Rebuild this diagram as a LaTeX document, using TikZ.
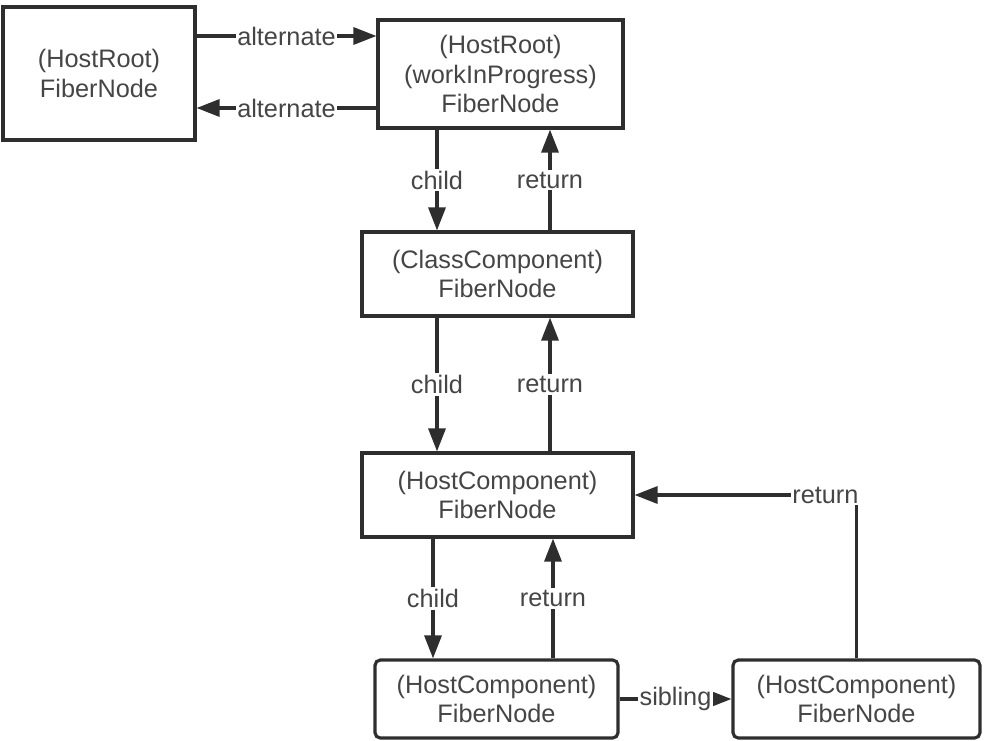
\documentclass[tikz,border=0pt]{standalone}
\usepackage{fontspec}
\setmainfont{Liberation Sans}
\usetikzlibrary{arrows.meta}
\definecolor{linegray}{HTML}{2E2E2E}
\definecolor{textgray}{HTML}{454545}

\begin{document}
\begin{tikzpicture}[x=0.02cm, y=-0.02cm, line width=1.8pt,
  fiber/.style={draw=linegray, align=center, text=textgray, inner sep=0pt,
    font=\fontsize{14.4}{17}\selectfont},
  link/.style={draw=linegray, -{Triangle[length=0.46cm, width=0.34cm]}},
  lbl/.style={fill=white, text=textgray, inner sep=1pt,
    font=\fontsize{14.4}{17}\selectfont}]
  \useasboundingbox (0,0) rectangle (986,740);

  % 结点
  \node[fiber, minimum width=3.84cm, minimum height=2.66cm] (root) at (99,73.5) {(HostRoot)\\FiberNode};
  \node[fiber, minimum width=4.9cm, minimum height=2.16cm] (wip) at (500.5,74) {(HostRoot)\\(workInProgress)\\FiberNode};
  \node[fiber, minimum width=5.42cm, minimum height=1.68cm] (cls) at (497.5,274) {(ClassComponent)\\FiberNode};
  \node[fiber, minimum width=5.42cm, minimum height=1.68cm] (host) at (497.5,495) {(HostComponent)\\FiberNode};
  \node[fiber, rounded corners=3pt, minimum width=4.86cm, minimum height=1.56cm] (hostA) at (496.5,699) {(HostComponent)\\FiberNode};
  \node[fiber, rounded corners=3pt, minimum width=4.94cm, minimum height=1.56cm] (hostB) at (856.5,699) {(HostComponent)\\FiberNode};

  % 连线的竖直位置
  \coordinate (alt1) at (0,36);
  \coordinate (alt2) at (0,108);
  \coordinate (c1) at (437,0);
  \coordinate (r1) at (550,0);
  \coordinate (c2) at (433,0);
  \coordinate (r2) at (553,0);

  % alternate
  \draw[link] (root.east |- alt1) -- node[lbl] {alternate} (wip.west |- alt1);
  \draw[link] (wip.west |- alt2) -- node[lbl] {alternate} (root.east |- alt2);

  % child / return
  \draw[link] (wip.south -| c1) -- node[lbl] {child} (cls.north -| c1);
  \draw[link] (cls.north -| r1) -- node[lbl] {return} (wip.south -| r1);
  \draw[link] (cls.south -| c1) -- node[lbl] {child} (host.north -| c1);
  \draw[link] (host.north -| r1) -- node[lbl] {return} (cls.south -| r1);
  \draw[link] (host.south -| c2) -- node[lbl] {child} (hostA.north -| c2);
  \draw[link] (hostA.north -| r2) -- node[lbl] {return} (host.south -| r2);

  % sibling
  \draw[link] (hostA.east) -- node[lbl] {sibling} (hostB.west);
  \draw[link] (hostB.north) |- node[lbl, pos=0.57] {return} (host.east);
\end{tikzpicture}
\end{document}
